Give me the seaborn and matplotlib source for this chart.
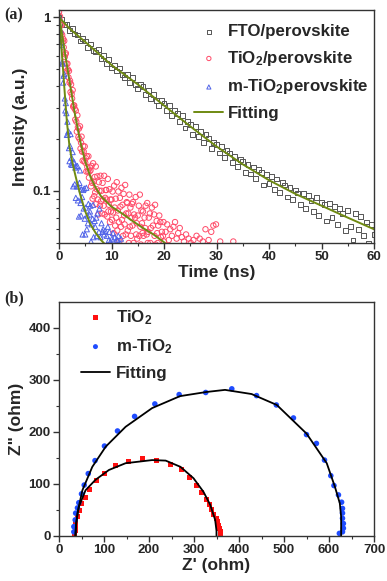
import matplotlib
matplotlib.use("Agg")
import matplotlib.pyplot as plt
import seaborn as sns
from matplotlib.ticker import MultipleLocator, FixedLocator, FixedFormatter, LogLocator, NullFormatter

# ---------------- data: panel (a) TRPL ----------------
fto_time = [0.0, 0.5, 1.0, 1.5, 2.0, 2.5, 3.0, 3.5, 4.0, 4.5, 5.0, 5.5, 6.0, 6.5, 7.0, 7.5, 8.0, 8.5, 9.0, 9.5, 10.0,
            10.5, 11.0, 11.5, 12.0, 12.5, 13.0, 13.5, 14.0, 14.5, 15.0,
            15.5, 16.0, 16.5, 17.0, 17.5, 18.0, 18.5, 19.0, 19.5, 20.0,
            20.5, 21.0, 21.5, 22.0, 22.5, 23.0, 23.5, 24.0, 24.5, 25.0,
            25.5, 26.0, 26.5, 27.0, 27.5, 28.0, 28.5, 29.0, 29.5, 30.0,
            30.5, 31.0, 31.5, 32.0, 32.5, 33.0, 33.5, 34.0, 34.5, 35.0,
            35.5, 36.0, 36.5, 37.0, 37.5, 38.0, 38.5, 39.0, 39.5, 40.0,
            40.5, 41.0, 41.5, 42.0, 42.5, 43.0, 43.5, 44.0, 44.5, 45.0,
            45.5, 46.0, 46.5, 47.0, 47.5, 48.0, 48.5, 49.0, 49.5, 50.0,
            50.5, 51.0, 51.5, 52.0, 52.5, 53.0, 53.5, 54.0, 54.5, 55.0,
            55.5, 56.0, 56.5, 57.0, 57.5, 58.0, 58.5, 59.0, 59.5, 60.0]
fto_int = [1.00, 0.97, 0.91, 0.91, 0.84, 0.86, 0.80, 0.79, 0.73, 0.75, 0.73, 0.67, 0.70, 0.64, 0.63, 0.65, 0.58, 0.60, 0.54, 0.57, 0.51,
           0.53, 0.49, 0.51, 0.47, 0.45, 0.47, 0.42, 0.45, 0.41, 0.39,
           0.41, 0.40, 0.36, 0.38, 0.34, 0.36, 0.33, 0.31, 0.33, 0.32,
           0.29, 0.31, 0.27, 0.29, 0.28, 0.25, 0.27, 0.23, 0.25, 0.24,
           0.21, 0.235, 0.205, 0.22, 0.19, 0.21, 0.20, 0.175, 0.19, 0.185,
           0.165, 0.18, 0.155, 0.17, 0.165, 0.145, 0.158, 0.138, 0.152, 0.147,
           0.128, 0.142, 0.125, 0.137, 0.118, 0.132, 0.127, 0.108, 0.124, 0.11,
           0.121, 0.102, 0.117, 0.098, 0.112, 0.108, 0.092, 0.104, 0.089, 0.101,
           0.097, 0.083, 0.096, 0.079, 0.094, 0.088, 0.076, 0.091, 0.072, 0.086,
           0.083, 0.067, 0.084, 0.070, 0.081, 0.064, 0.079, 0.074, 0.059, 0.077,
           0.062, 0.052, 0.074, 0.060, 0.071, 0.055, 0.066, 0.050, 0.064, 0.056]

tio2_time = [0.0, 0.1, 0.2, 0.3, 0.4, 0.5, 0.6, 0.7, 0.8, 0.9,
             1.0, 1.1, 1.2, 1.3, 1.4, 1.5, 1.6, 1.7, 1.8, 1.9,
             2.0, 2.1, 2.2, 2.3, 2.4, 2.5, 2.6, 2.7, 2.8, 2.9,
             3.0, 3.1, 3.2, 3.3, 3.4, 3.5, 3.6, 3.7, 3.8, 3.9,
             4.0, 4.1, 4.2, 4.3, 4.4, 4.5, 4.6, 4.7, 4.8, 4.9,
             5.0, 5.1, 5.2, 5.3, 5.4, 5.5, 5.6, 5.7, 5.8, 5.9,
             6.0, 6.1, 6.2, 6.3, 6.4, 6.5, 6.6, 6.7, 6.8, 6.9,
             7.0, 7.1, 7.2, 7.3, 7.4, 7.5, 7.6, 7.7, 7.8, 7.9,
             8.0, 8.1, 8.2, 8.3, 8.4, 8.5, 8.6, 8.7, 8.8, 8.9,
             9.0, 9.1, 9.2, 9.3, 9.4, 9.5, 9.6, 9.7, 9.8, 9.9,
             10.0, 10.1, 10.2, 10.3, 10.4, 10.5, 10.6, 10.7, 10.8, 10.9,
             11.0, 11.1, 11.2, 11.3, 11.4, 11.5, 11.6, 11.7, 11.8, 11.9,
             12.0, 12.1, 12.2, 12.3, 12.4, 12.5, 12.6, 12.7, 12.8, 12.9,
             13.0, 13.1, 13.2, 13.3, 13.4, 13.5, 13.6, 13.7, 13.8, 13.9,
             14.0, 14.1, 14.2, 14.3, 14.4, 14.5, 14.6, 14.7, 14.8, 14.9,
             15.0, 15.1, 15.2, 15.3, 15.4, 15.5, 15.6, 15.7, 15.8, 15.9,
             16.0, 16.1, 16.2, 16.3, 16.4, 16.5, 16.6, 16.7, 16.8, 16.9,
             17.0, 17.1, 17.2, 17.3, 17.4, 17.5, 17.6, 17.7, 17.8, 17.9,
             18.0, 18.1, 18.2, 18.3, 18.4, 18.5, 18.6, 18.7, 18.8, 18.9,
             19.0, 19.1, 19.2, 19.3, 19.4, 19.5, 19.6, 19.7, 19.8, 19.9,
             20.0, 20.3, 20.6, 20.9, 21.2, 21.5, 21.8, 22.1, 22.4, 22.7,
             23.0, 23.4, 23.8, 24.2, 24.7, 25.1, 25.6, 26.2, 26.8, 27.4,
             27.9, 28.5, 29.0, 29.4, 29.9, 30.7, 33.2]
tio2_int = [1.07, 0.96, 1.01, 0.90, 0.81, 0.90, 0.79, 0.72, 0.75, 0.67,
            0.73, 0.59, 0.61, 0.62, 0.54, 0.49, 0.54, 0.50, 0.45, 0.49,
            0.42, 0.43, 0.37, 0.41, 0.36, 0.34, 0.38, 0.305, 0.31, 0.31,
            0.296, 0.257, 0.290, 0.250, 0.219, 0.272, 0.232, 0.204, 0.228, 0.199,
            0.235, 0.175, 0.189, 0.205, 0.168, 0.149, 0.181, 0.168, 0.148, 0.180,
            0.145, 0.154, 0.129, 0.158, 0.137, 0.129, 0.158, 0.119, 0.129, 0.136,
            0.131, 0.106, 0.139, 0.111, 0.090, 0.144, 0.113, 0.093, 0.120, 0.098,
            0.138, 0.084, 0.102, 0.121, 0.089, 0.073, 0.112, 0.100, 0.082, 0.122,
            0.087, 0.100, 0.074, 0.111, 0.089, 0.082, 0.122, 0.073, 0.091, 0.101,
            0.101, 0.089, 0.071, 0.117, 0.076, 0.083, 0.102, 0.066, 0.089, 0.076,
            0.089, 0.068, 0.099, 0.075, 0.057, 0.107, 0.080, 0.063, 0.090, 0.070,
            0.112, 0.059, 0.077, 0.099, 0.066, 0.051, 0.091, 0.081, 0.062, 0.104,
            0.068, 0.083, 0.055, 0.096, 0.072, 0.064, 0.108, 0.056, 0.074, 0.086,
            0.085, 0.059, 0.074, 0.050, 0.095, 0.062, 0.080, 0.055, 0.070, 0.084,
            0.063, 0.086, 0.050, 0.073, 0.044, 0.070, 0.092, 0.056, 0.065, 0.053,
            0.072, 0.047, 0.082, 0.055, 0.095, 0.062, 0.049, 0.077, 0.065, 0.057,
            0.076, 0.055, 0.044, 0.070, 0.061, 0.082, 0.048, 0.056, 0.085, 0.050,
            0.058, 0.070, 0.038, 0.074, 0.050, 0.061, 0.044, 0.080, 0.047, 0.063,
            0.041, 0.073, 0.055, 0.083, 0.049, 0.043, 0.067, 0.057, 0.050, 0.063,
            0.048, 0.072, 0.038, 0.066, 0.054, 0.042, 0.058, 0.044, 0.055, 0.066,
            0.051, 0.058, 0.064, 0.052, 0.060, 0.055, 0.062, 0.066, 0.053, 0.057,
            0.061, 0.054, 0.051, 0.056, 0.053, 0.050, 0.052, 0.055, 0.053, 0.051,
            0.060, 0.052, 0.058, 0.063, 0.064, 0.051, 0.051]

mtio2_time = [0.0, 0.1, 0.2, 0.3, 0.4, 0.5, 0.6, 0.7, 0.8, 0.9,
              1.0, 1.1, 1.2, 1.3, 1.4, 1.5, 1.6, 1.7, 1.8, 1.9,
              2.0, 2.1, 2.2, 2.3, 2.4, 2.5, 2.6, 2.7, 2.8, 2.9,
              3.0, 3.1, 3.2, 3.3, 3.4, 3.5, 3.6, 3.7, 3.8, 3.9,
              4.0, 4.1, 4.2, 4.3, 4.4, 4.5, 4.6, 4.7, 4.8, 4.9,
              5.0, 5.1, 5.2, 5.3, 5.4, 5.5, 5.6, 5.7, 5.8, 5.9,
              6.0, 6.1, 6.2, 6.3, 6.4, 6.5, 6.6, 6.7, 6.8, 6.9,
              7.0, 7.1, 7.2, 7.3, 7.4, 7.5, 7.6, 7.7, 7.8, 7.9,
              8.0, 8.1, 8.2, 8.3, 8.4, 8.5, 8.6, 8.7, 8.8, 8.9,
              9.0, 9.1, 9.2, 9.3, 9.4, 9.5, 9.6, 9.7, 9.8, 9.9,
              10.0, 10.1, 10.2, 10.3, 10.4, 10.5, 10.6, 10.7, 10.8, 10.9,
              11.0, 11.1, 11.2, 11.3, 11.4, 11.5, 11.6, 11.7, 11.8, 11.9]
mtio2_int = [0.99, 0.99, 0.77, 0.84, 0.69, 0.72, 0.55, 0.54, 0.42, 0.46,
             0.47, 0.34, 0.29, 0.32, 0.28, 0.21, 0.25, 0.21, 0.22, 0.176,
             0.148, 0.181, 0.212, 0.142, 0.155, 0.141, 0.167, 0.106, 0.145, 0.146,
             0.109, 0.136, 0.091, 0.138, 0.106, 0.139, 0.088, 0.106, 0.071, 0.111,
             0.131, 0.085, 0.072, 0.102, 0.092, 0.056, 0.101, 0.079, 0.103, 0.069,
             0.056, 0.080, 0.104, 0.060, 0.072, 0.065, 0.084, 0.043, 0.073, 0.076,
             0.082, 0.051, 0.064, 0.042, 0.069, 0.083, 0.054, 0.045, 0.067, 0.062,
             0.036, 0.070, 0.055, 0.074, 0.048, 0.039, 0.058, 0.079, 0.043, 0.054,
             0.048, 0.065, 0.032, 0.058, 0.060, 0.043, 0.056, 0.037, 0.059, 0.046,
             0.041, 0.055, 0.047, 0.062, 0.039, 0.052, 0.058, 0.044, 0.051, 0.036,
             0.049, 0.053, 0.038, 0.057, 0.045, 0.042, 0.054, 0.040, 0.051, 0.047,
             0.044, 0.052, 0.039, 0.055, 0.046, 0.037, 0.050, 0.043, 0.053, 0.041]

fit_fto_time = [0, 2, 5, 10, 15, 20, 25, 30, 35, 40, 45, 50, 55, 60]
fit_fto_int = [1.0, 0.86, 0.72, 0.53, 0.41, 0.31, 0.235, 0.18, 0.142, 0.115, 0.096, 0.082, 0.070, 0.060]
fit_tio2_time = [0, 1, 2, 3, 4, 5, 6, 7, 8, 10, 12, 14, 16, 18, 20.2]
fit_tio2_int = [1.05, 0.66, 0.43, 0.28, 0.195, 0.147, 0.12, 0.104, 0.093, 0.081, 0.074, 0.067, 0.061, 0.056, 0.050]
fit_mtio2_time = [0, 0.5, 1.0, 1.5, 2.0, 2.5, 3.0, 3.5, 4.0, 5.0, 6.0, 7.0, 8.0, 8.8]
fit_mtio2_int = [1.05, 0.65, 0.40, 0.25, 0.18, 0.148, 0.127, 0.110, 0.096, 0.076, 0.064, 0.057, 0.052, 0.049]

# ---------------- data: panel (b) EIS ----------------
tio2_zre = [35, 36, 37, 37, 41, 46, 50, 58, 68, 83, 101, 126, 154, 185, 217, 247, 273, 291,
            306, 317, 327, 334, 339, 344, 349, 352, 354, 356, 358, 358]
tio2_zim = [4, 10, 17, 24, 37, 49, 62, 74, 90, 106, 120, 135, 144, 149, 146, 138, 127, 113,
            98, 84, 71, 61, 51, 42, 34, 28, 21, 15, 8, 4]
mtio2_zre = [33, 33, 36, 37, 41, 44, 50, 56, 65, 80, 101, 130, 168, 213, 267, 326, 384, 439,
             483, 521, 550, 572, 590, 604, 611, 621, 628, 630, 630, 630, 632, 632, 630, 623]
mtio2_zim = [8, 18, 31, 44, 54, 64, 81, 98, 120, 145, 173, 202, 230, 254, 272, 276, 283, 270,
             252, 227, 195, 178, 146, 116, 97, 79, 65, 53, 44, 34, 24, 15, 8, 5]
fit_tio2_zre = [36, 38, 44, 59, 81, 111, 148, 207, 237, 270, 299, 321, 336, 347, 350, 350]
fit_tio2_zim = [0, 25, 56, 88, 108, 127, 140, 146, 145, 133, 111, 85, 60, 31, 10, 0]
fit_mtio2_zre = [37, 38, 41, 52, 74, 104, 148, 207, 269, 328, 369, 428, 484, 550, 595, 613, 624, 627, 627]
fit_mtio2_zim = [0, 20, 44, 88, 133, 172, 210, 246, 269, 277, 281, 273, 252, 197, 140, 95, 63, 37, 0]

labels_a = ["FTO/perovskite", "TiO$_2$/perovskite", "m-TiO$_2$perovskite", "Fitting"]
labels_b = ["TiO$_2$", "m-TiO$_2$", "Fitting"]

# ---------------- style ----------------
sns.set_theme(style="ticks")
plt.rcParams["font.family"] = ["Liberation Sans", "DejaVu Sans"]
plt.rcParams["font.weight"] = "bold"
plt.rcParams["axes.labelweight"] = "bold"
plt.rcParams["mathtext.fontset"] = "custom"
plt.rcParams["mathtext.rm"] = "Liberation Sans:bold"
plt.rcParams["mathtext.it"] = "Liberation Sans:bold"
plt.rcParams["mathtext.bf"] = "Liberation Sans:bold"
plt.rcParams["mathtext.default"] = "rm"

c_gray = "#555555"
c_pink = "#ff4a68"
c_blue = "#4f62e8"
c_fit = "#6f8a12"
c_red = "#ff1010"
c_blue2 = "#1f4cff"

fig = plt.figure(figsize=(3.87, 5.81), dpi=100)
ax1 = fig.add_axes([59 / 387, 1 - 243 / 581, 315 / 387, 233 / 581])
ax2 = fig.add_axes([59 / 387, 1 - 536 / 581, 315 / 387, 234 / 581])

# panel (a)
sns.scatterplot(x=fto_time, y=fto_int, marker="s", s=12, color=c_gray, facecolors="none",
                edgecolor=c_gray, linewidth=0.7, ax=ax1, label=labels_a[0])
sns.scatterplot(x=tio2_time, y=tio2_int, marker="o", s=15, color=c_pink, facecolors="none",
                edgecolor=c_pink, linewidth=0.7, ax=ax1, label=labels_a[1])
sns.scatterplot(x=mtio2_time, y=mtio2_int, marker="^", s=14, color=c_blue, facecolors="none",
                edgecolor=c_blue, linewidth=0.7, ax=ax1, label=labels_a[2])
sns.lineplot(x=fit_fto_time, y=fit_fto_int, color=c_fit, lw=1.4, ax=ax1, sort=False,
             estimator=None, label=labels_a[3])
sns.lineplot(x=fit_tio2_time, y=fit_tio2_int, color=c_fit, lw=1.4, ax=ax1, sort=False, estimator=None)
sns.lineplot(x=fit_mtio2_time, y=fit_mtio2_int, color=c_fit, lw=1.4, ax=ax1, sort=False, estimator=None)

ax1.set_yscale("log")
ax1.set_xlim(0, 60)
ax1.set_ylim(0.05, 1.1)
ax1.xaxis.set_major_locator(MultipleLocator(10))
ax1.xaxis.set_minor_locator(MultipleLocator(5))
ax1.yaxis.set_major_locator(FixedLocator([0.1, 1]))
ax1.yaxis.set_major_formatter(FixedFormatter(["0.1", "1"]))
ax1.yaxis.set_minor_locator(LogLocator(base=10, subs=[2, 3, 4, 5, 6, 7, 8, 9]))
ax1.yaxis.set_minor_formatter(NullFormatter())
ax1.set_xlabel("Time (ns)", fontsize=12.5, fontweight="bold", labelpad=1)
ax1.set_ylabel("Intensity (a.u.)", fontsize=12.5, fontweight="bold", labelpad=3)
ax1.legend(loc="upper left", bbox_to_anchor=(0.43, 0.938), frameon=False, fontsize=12.2,
           handlelength=1.7, handletextpad=0.25, labelspacing=0.56, borderpad=0,
           borderaxespad=0, markerscale=0.8)

# panel (b)
sns.scatterplot(x=tio2_zre, y=tio2_zim, marker="s", s=13, color=c_red, edgecolor="none",
                ax=ax2, label=labels_b[0])
sns.scatterplot(x=mtio2_zre, y=mtio2_zim, marker="o", s=16, color=c_blue2, edgecolor="none",
                ax=ax2, label=labels_b[1])
sns.lineplot(x=fit_tio2_zre, y=fit_tio2_zim, color="black", lw=1.3, ax=ax2, sort=False,
             estimator=None, label=labels_b[2])
sns.lineplot(x=fit_mtio2_zre, y=fit_mtio2_zim, color="black", lw=1.3, ax=ax2, sort=False, estimator=None)

ax2.set_xlim(0, 700)
ax2.set_ylim(0, 450)
ax2.xaxis.set_major_locator(MultipleLocator(100))
ax2.xaxis.set_minor_locator(MultipleLocator(50))
ax2.yaxis.set_major_locator(FixedLocator([0, 100, 200, 300, 400]))
ax2.yaxis.set_minor_locator(FixedLocator([50, 150, 250, 350]))
ax2.set_xlabel("Z' (ohm)", fontsize=12.5, fontweight="bold", labelpad=1)
ax2.set_ylabel('Z" (ohm)', fontsize=12.5, fontweight="bold", labelpad=3)
ax2.legend(loc="upper left", bbox_to_anchor=(0.07, 0.975), frameon=False, fontsize=12.2,
           handlelength=1.7, handletextpad=0.35, labelspacing=0.62, borderpad=0,
           borderaxespad=0, markerscale=0.9)

for ax in (ax1, ax2):
    for sp in ax.spines.values():
        sp.set_linewidth(1.0)
        sp.set_color("#333333")
    ax.tick_params(which="major", direction="out", length=4, width=1, labelsize=9.5,
                   color="#333333", pad=2, top=False, right=False)
    ax.tick_params(which="minor", direction="out", length=2.5, width=0.8,
                   color="#333333", top=False, right=False)
    for lab in ax.get_xticklabels() + ax.get_yticklabels():
        lab.set_fontweight("bold")

fig.text(0.012, 0.988, "(a)", family=["Liberation Serif"], fontweight="bold", fontsize=11.5, va="top")
fig.text(0.012, 1 - 290 / 581, "(b)", family=["Liberation Serif"], fontweight="bold", fontsize=11.5, va="top")

fig.savefig("out.png", dpi=100)
